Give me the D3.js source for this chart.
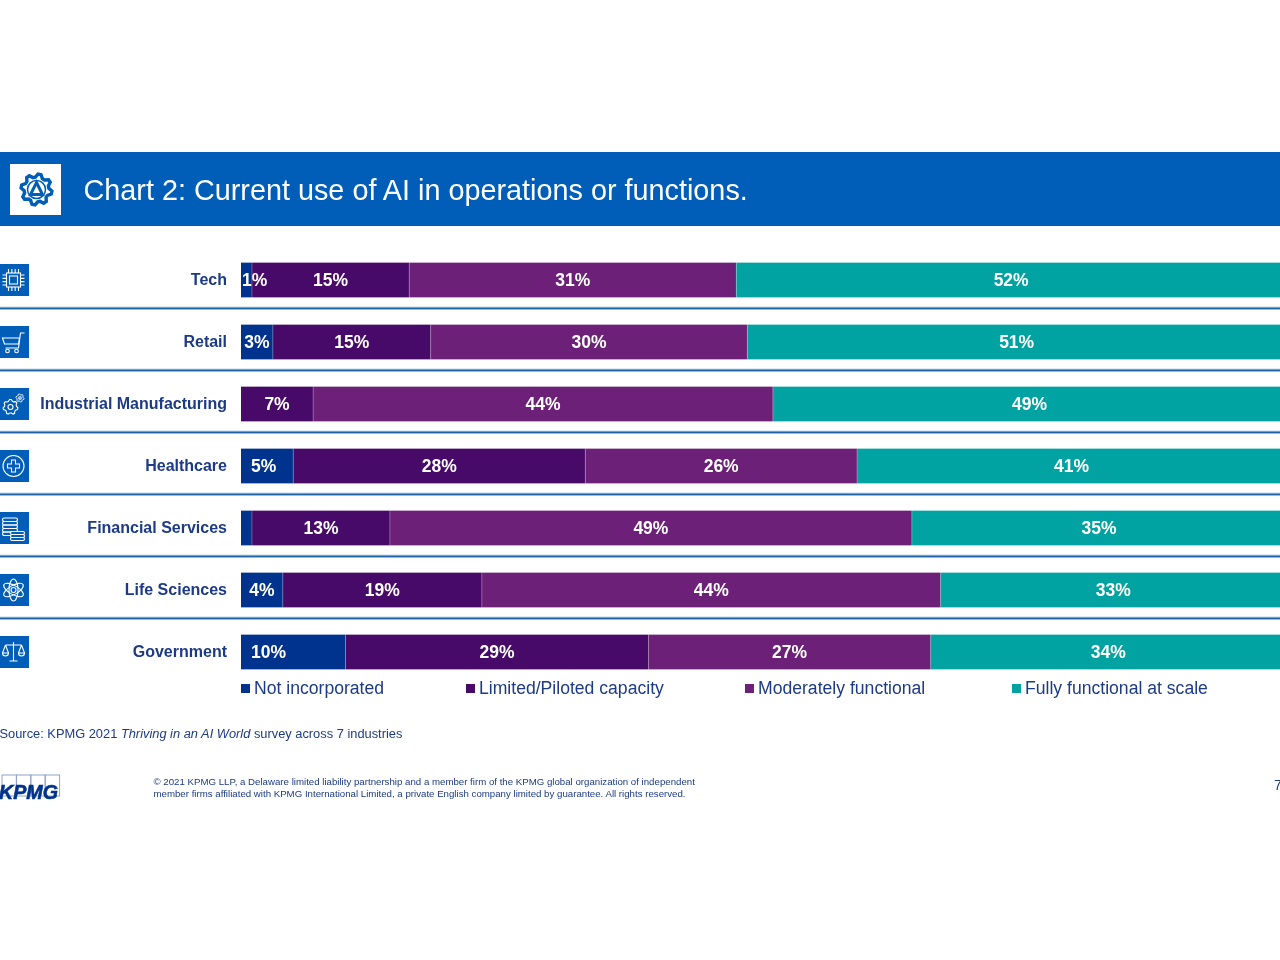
<!DOCTYPE html>
<html><head><meta charset="utf-8">
<script src="https://cdn.jsdelivr.net/npm/d3@7/dist/d3.min.js"></script>
<style>
html,body{margin:0;padding:0;background:#fff;overflow:hidden}
svg{display:block;filter:blur(.4px)}
text{font-family:"Liberation Sans",Arial,sans-serif}
</style></head><body>
<svg id="c" width="1280" height="960"></svg>
<script>
const categories=["Tech","Retail","Industrial Manufacturing","Healthcare","Financial Services","Life Sciences","Government"];
const seriesNames=["Not incorporated","Limited/Piloted capacity","Moderately functional","Fully functional at scale"];
const seriesColors=["#00338D","#470A68","#6D2077","#00A3A1"];
const notIncorporated=[1.05,3.05,0,5,1.05,4,10];
const limitedPiloted=[15.05,15.1,6.9,27.95,13.2,19.05,29];
const moderatelyFunctional=[31.3,30.3,44,26,49.95,43.9,27];
const fullyFunctional=[52.6,51.55,49.1,41.05,35.8,33.05,34];
const labelsNot=["1%","3%","","5%","","4%","10%"];
const labelsLimited=["15%","15%","7%","28%","13%","19%","29%"];
const labelsModerate=["31%","30%","44%","26%","49%","44%","27%"];
const labelsFully=["52%","51%","49%","41%","35%","33%","34%"];
const titleText="Chart 2: Current use of AI in operations or functions.";
const footerLines=["© 2021 KPMG LLP, a Delaware limited liability partnership and a member firm of the KPMG global organization of independent","member firms affiliated with KPMG International Limited, a private English company limited by guarantee. All rights reserved."];

const seriesValues=[notIncorporated,limitedPiloted,moderatelyFunctional,fullyFunctional];
const seriesLabels=[labelsNot,labelsLimited,labelsModerate,labelsFully];
const NAVY="#1C3A85", BLUE="#005EB8";
const svg=d3.select("#c");
const x=d3.scaleLinear().domain([0,100]).range([241,1286]);
const y=d3.scaleBand().domain(categories).range([249,683]).paddingInner(.44).paddingOuter(.22);

// banner
svg.append("rect").attr("x",-2).attr("y",152).attr("width",1284).attr("height",74).attr("fill",BLUE);
svg.append("rect").attr("x",10).attr("y",164).attr("width",51).attr("height",51).attr("fill","#fff");
svg.append("text").attr("x",83.5).attr("y",200).attr("font-size",28.8).attr("fill","#fff").text(titleText);
const gear=(g,cx,cy,r,teeth,sw,color)=>{
  const pts=[];const n=teeth*4;
  for(let i=0;i<n;i++){const a=i/n*2*Math.PI;const rr=(i%4<2)?r:r*.8;pts.push([cx+rr*Math.cos(a+.1),cy+rr*Math.sin(a+.1)]);}
  g.append("path").attr("d",d3.line().curve(d3.curveLinearClosed)(pts)).attr("fill","none").attr("stroke",color).attr("stroke-width",sw);
};
const bg=svg.append("g");
gear(bg,36.5,189.5,15.5,8,3.4,BLUE);
bg.append("circle").attr("cx",36.5).attr("cy",189.5).attr("r",9).attr("fill","none").attr("stroke",BLUE).attr("stroke-width",1.5);
bg.append("path").attr("d","M36.5 182.5 L42.5 194.5 L30.5 194.5 Z").attr("fill","none").attr("stroke",BLUE).attr("stroke-width",3);

// separators
const sepG=svg.append("g");
[["#C4DAEE",3.4],["#1F64A6",1.8]].forEach(([col,w])=>{
 sepG.append("g").selectAll("line").data(categories.slice(0,-1)).join("line")
 .attr("x1",-2).attr("x2",1282)
 .attr("y1",d=>y(d)+y.bandwidth()/2+28.3).attr("y2",d=>y(d)+y.bandwidth()/2+28.3)
 .attr("stroke",col).attr("stroke-width",w);
});

// stacked bars
const rows=categories.map((c,i)=>{const o={c};seriesNames.forEach((s,j)=>o[s]=seriesValues[j][i]);return o;});
const stacked=d3.stack().keys(seriesNames)(rows);
const barG=svg.append("g");
stacked.forEach((ser,j)=>{
  barG.append("g").selectAll("rect").data(ser.filter(d=>d[1]>d[0])).join("rect")
   .attr("x",d=>x(d[0])).attr("y",d=>y(d.data.c)).attr("width",d=>x(d[1])-x(d[0])).attr("height",y.bandwidth())
   .attr("fill",seriesColors[j]);
});
// thin light segment dividers
stacked.slice(0,3).forEach(ser=>{
  barG.append("g").selectAll("line").data(ser.filter(d=>d[1]>d[0])).join("line")
   .attr("x1",d=>x(d[1])).attr("x2",d=>x(d[1])).attr("y1",d=>y(d.data.c)).attr("y2",d=>y(d.data.c)+y.bandwidth())
   .attr("stroke","#fff").attr("stroke-opacity",.25).attr("stroke-width",1);
});
// value labels
const lblG=svg.append("g").attr("font-size",17.5).attr("font-weight",700).attr("fill","#fff");
stacked.forEach((ser,j)=>{
  lblG.append("g").selectAll("text").data(ser.map((d,i)=>({d,t:seriesLabels[j][i]})).filter(o=>o.t)).join("text")
   .attr("y",o=>y(o.d.data.c)+y.bandwidth()/2+5.8)
   .attr("text-anchor",j===0?"start":"middle")
   .attr("x",o=>(x(o.d[0])+x(o.d[1]))/2)
   .text(o=>o.t)
   .each(function(o){ if(j===0){const w=x(o.d[1])-x(o.d[0]);const tw=this.getComputedTextLength();
      d3.select(this).attr("x",x(o.d[0])+Math.max(1,Math.min(10,(w-tw)/2)));}});
});
// category labels
svg.append("g").selectAll("text").data(categories).join("text")
 .attr("x",227).attr("y",d=>y(d)+y.bandwidth()/2+5).attr("text-anchor","end")
 .attr("font-size",16).attr("font-weight",700).attr("fill",NAVY).text(d=>d);

// row icons
const icons=svg.append("g");
const drawIcon={
 "Tech":(g,c)=>{g.append("rect").attr("x",c-7).attr("y",-7).attr("width",14).attr("height",14);
   g.append("rect").attr("x",c-4).attr("y",-4).attr("width",8).attr("height",8);
   d3.range(-5,6,3.33).forEach(t=>{g.append("path").attr("d",`M${c+t} -11V-7M${c+t} 7V11M${c-11} ${t}H${c-7}M${c+7} ${t}H${c+11}`);});},
 "Retail":(g,c)=>{g.append("path").attr("d",`M${c+11} -9H${c+7}L${c+5} 6H${c-8}`);
   g.append("path").attr("d",`M${c-11} -4H${c+6}L${c+5} 2H${c-9}Z`);
   g.append("circle").attr("cx",c-6).attr("cy",9).attr("r",1.8);g.append("circle").attr("cx",c+3).attr("cy",9).attr("r",1.8);},
 "Industrial Manufacturing":(g,c)=>{gear(g,c-3,3,7.5,7,1.1,"#fff");g.append("circle").attr("cx",c-3).attr("cy",3).attr("r",2.5);
   gear(g,c+6.5,-6,4,6,1,"#fff");g.append("circle").attr("cx",c+6.5).attr("cy",-6).attr("r",1.3);},
 "Healthcare":(g,c)=>{g.append("circle").attr("cx",c).attr("r",10.5);
   g.append("path").attr("d",`M${c-2} -6H${c+2}V-2H${c+6}V2H${c+2}V6H${c-2}V2H${c-6}V-2H${c-2}Z`);},
 "Financial Services":(g,c)=>{[-10,-6.5,-3,0.5,4].forEach(t=>g.append("rect").attr("x",c-11).attr("y",t).attr("width",15).attr("height",3.5).attr("rx",1.7));
   [3.5,6.5,9.5].forEach(t=>g.append("rect").attr("x",c-3).attr("y",t).attr("width",14).attr("height",3).attr("rx",1.5).attr("fill",BLUE));},
 "Life Sciences":(g,c)=>{[0,60,120].forEach(a=>g.append("ellipse").attr("cx",c).attr("rx",4.5).attr("ry",11).attr("transform",`rotate(${a} ${c} 0)`));
   g.append("circle").attr("cx",c).attr("r",2.5);},
 "Government":(g,c)=>{g.append("path").attr("d",`M${c} -10V9M${c-4} 9H${c+4}M${c-8} -7H${c+8}M${c-8} -7L${c-11} 1M${c-8} -7L${c-5} 1M${c+8} -7L${c+5} 1M${c+8} -7L${c+11} 1`);
   g.append("path").attr("d",`M${c-11} 1A3 3 0 0 0 ${c-5} 1ZM${c+5} 1A3 3 0 0 0 ${c+11} 1Z`);}
};
categories.forEach(cat=>{
  const cy=y(cat)+y.bandwidth()/2;
  icons.append("rect").attr("x",-2).attr("y",cy-16).attr("width",31).attr("height",32).attr("fill",BLUE);
  const g=icons.append("g").attr("transform",`translate(0,${cy})`).attr("fill","none").attr("stroke","#fff").attr("stroke-width",1.1);
  drawIcon[cat](g,13.5);
});

// legend
const legendX=d3.scaleOrdinal().domain(seriesNames).range([241,466,745,1012]);
const lg=svg.append("g").selectAll("g").data(seriesNames).join("g").attr("transform",d=>`translate(${legendX(d)},0)`);
lg.append("rect").attr("y",684).attr("width",9).attr("height",9).attr("fill",(d,i)=>seriesColors[i]);
lg.append("text").attr("x",13).attr("y",694).attr("font-size",17.6).attr("fill",NAVY).text(d=>d);

// source
const src=svg.append("text").attr("x",-0.5).attr("y",738).attr("font-size",12.85).attr("fill",NAVY);
src.append("tspan").text("Source: KPMG 2021 ");
src.append("tspan").attr("font-style","italic").text("Thriving in an AI World");
src.append("tspan").text(" survey across 7 industries");

// footer
svg.append("g").selectAll("text").data(footerLines).join("text")
 .attr("x",153.5).attr("y",(d,i)=>784.5+i*12).attr("font-size",9.68).attr("fill",NAVY).text(d=>d);
svg.append("text").attr("x",1274).attr("y",790).attr("font-size",14).attr("fill",NAVY).text("7");

// logo
const logo=svg.append("g");
logo.selectAll("rect").data([0,1,2,3]).join("rect").attr("x",d=>2+d*14.4).attr("y",775).attr("width",14.4).attr("height",21)
 .attr("fill","none").attr("stroke","#8fa3cc").attr("stroke-width",1);
logo.append("text").attr("x",-1).attr("y",799).attr("font-size",19.5).attr("font-weight",700).attr("font-style","italic")
 .attr("fill","#00338D").attr("stroke","#00338D").attr("stroke-width",.6).attr("textLength",59).attr("lengthAdjust","spacingAndGlyphs").text("KPMG");
</script>
</body></html>
